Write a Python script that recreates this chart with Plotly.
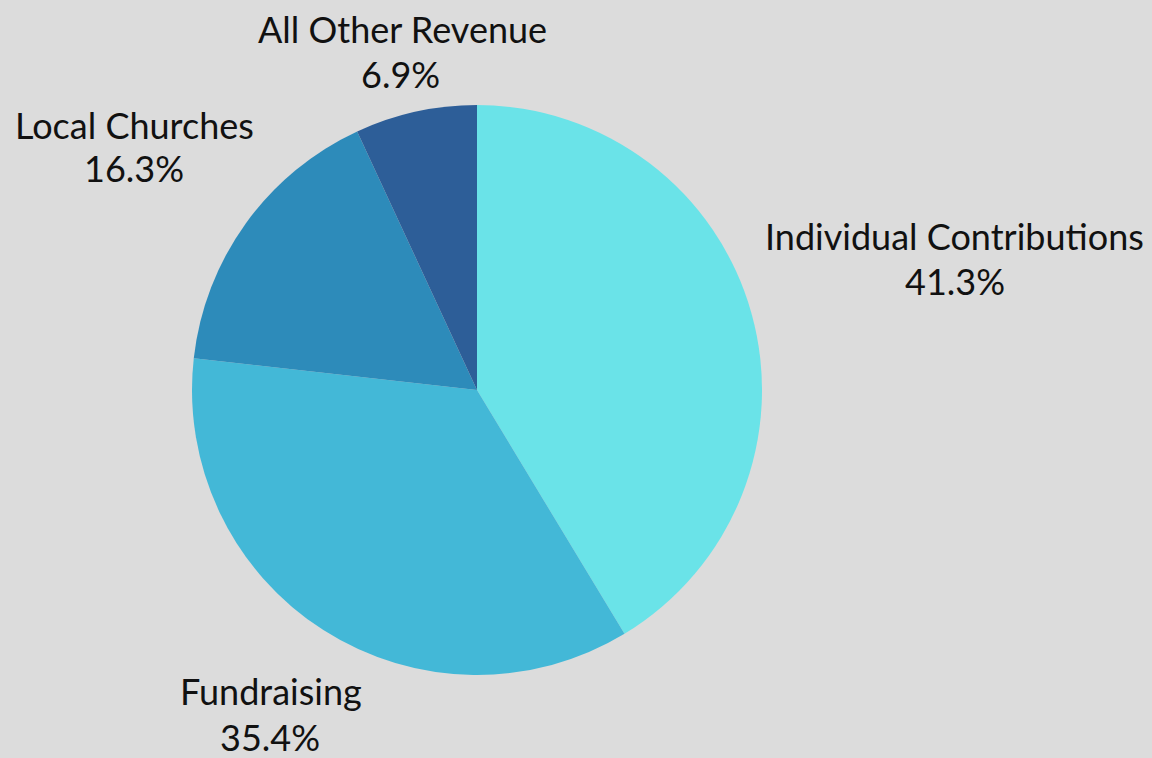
import plotly.graph_objects as go

categories = ["Individual Contributions", "Fundraising", "Local Churches", "All Other Revenue"]
values = [41.3, 35.4, 16.3, 6.9]
pct_labels = ["41.3%", "35.4%", "16.3%", "6.9%"]
colors = ["#6AE3E8", "#43B8D7", "#2D8BBA", "#2D5E98"]

W, H = 1152, 758
cx, cy, r = 477, 390, 285

fig = go.Figure(go.Pie(
    labels=categories, values=values, sort=False, direction="clockwise", rotation=0,
    marker=dict(colors=colors, line=dict(width=0)), textinfo="none", hoverinfo="label+percent",
    domain=dict(x=[(cx - r) / W, (cx + r) / W], y=[(H - cy - r) / H, (H - cy + r) / H]),
    showlegend=False,
))

# label line positions (pixel centers): name line, percent line
label_pos = {
    "Individual Contributions": ((954, 236), (955, 281)),
    "Fundraising": ((271, 691), (270, 737)),
    "Local Churches": ((134, 125), (134, 168)),
    "All Other Revenue": ((402, 29), (400, 74)),
}
font = dict(family="Lato, Noto Sans, sans-serif", size=36, color="#111111")
for cat, pct in zip(categories, pct_labels):
    (x1, y1), (x2, y2) = label_pos[cat]
    for txt, (x, y) in ((cat, (x1, y1)), (pct, (x2, y2))):
        fig.add_annotation(text=txt, x=x / W, y=1 - y / H, xref="paper", yref="paper",
                           xanchor="center", yanchor="middle", showarrow=False, font=font)

fig.update_layout(width=W, height=H, margin=dict(l=0, r=0, t=0, b=0),
                  paper_bgcolor="#DCDCDC", plot_bgcolor="#DCDCDC")
fig.write_html("out.html", config={"displayModeBar": False},
               post_script="document.body.style.margin='0';document.body.style.overflow='hidden';")
